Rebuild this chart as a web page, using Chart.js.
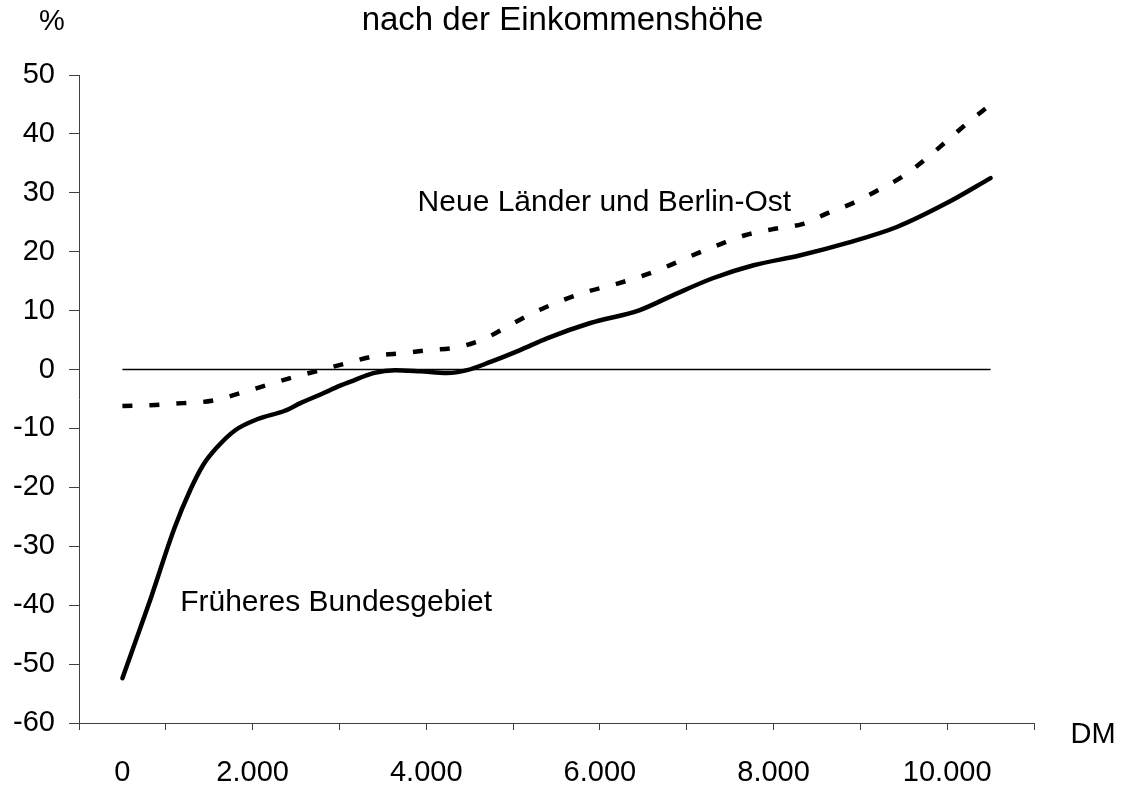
<!DOCTYPE html>
<html>
<head>
<meta charset="utf-8">
<script src="https://cdn.jsdelivr.net/npm/chart.js@4/dist/chart.umd.min.js"></script>
<style>
  body { margin: 0; background: #fff; }
</style>
</head>
<body>
<canvas id="incomeChart" width="1125" height="789"></canvas>
<script>
// Früheres Bundesgebiet (solid line)
const westIncome = [0, 320, 600, 780, 930, 1090, 1300, 1560, 1870, 2050, 2240, 2450, 2620, 2890, 3140, 3430, 3740, 3970, 4240, 4580, 4890, 5390, 5960, 6340, 6800, 7270, 7810, 8350, 8920, 9500, 10000];
const westValues = [-52.4, -39.1, -26.9, -20.5, -16.2, -13.2, -10.3, -8.4, -7.0, -5.7, -4.5, -3.1, -2.1, -0.6, -0.1, -0.3, -0.6, -0.1, 1.3, 3.3, 5.3, 7.9, 10.1, 12.6, 15.5, 17.7, 19.4, 21.5, 24.2, 28.3, 32.5];

// Neue Länder und Berlin-Ost (dashed line)
const eastIncome = [0, 380, 700, 1030, 1360, 1670, 1970, 2280, 2590, 2910, 3230, 3540, 3870, 4180, 4470, 4730, 5040, 5350, 5680, 5990, 6290, 6570, 6890, 7170, 7480, 7830, 8130, 8420, 8710, 8980, 9250, 9480, 9730, 10000];
const eastValues = [-6.2, -6.0, -5.7, -5.3, -4.0, -2.6, -1.3, -0.1, 1.1, 2.3, 2.8, 3.3, 3.8, 5.3, 7.6, 9.6, 11.6, 13.2, 14.5, 15.9, 17.6, 19.4, 21.3, 22.8, 23.8, 24.7, 26.6, 28.3, 30.5, 32.7, 35.7, 38.6, 41.8, 45.0];

// zero reference line
const zeroIncome = [0, 10000];
const zeroValues = [0, 0];

// x axis: tick marks every 1000 from -500, labels sit where the original put them
const xTickMarks = [-500, 500, 1500, 2500, 3500, 4500, 5500, 6500, 7500, 8500, 9500, 10500];
const xLabelValues = [0, 1500, 3500, 5500, 7500, 9500];
const xLabelTexts = ["0", "2.000", "4.000", "6.000", "8.000", "10.000"];

const seriesNames = ["Früheres Bundesgebiet", "Neue Länder und Berlin-Ost"];
const titleText = "nach der Einkommenshöhe";

const FONT = '"Liberation Sans", Arial, sans-serif';

function toPoints(xs, ys) {
    return xs.map((x, i) => ({ x: x, y: ys[i] }));
}

// text that is not part of an axis: title, unit labels and series captions
const textPlugin = {
    id: "extraText",
    afterDraw(chart) {
        const ctx = chart.ctx;
        const area = chart.chartArea;
        const xs = chart.scales.x;
        const ys = chart.scales.y;
        ctx.save();
        ctx.fillStyle = "#000";
        ctx.textBaseline = "middle";
        ctx.textAlign = "center";

        ctx.font = "33px " + FONT;
        ctx.fillText(titleText, chart.width / 2, 21);

        ctx.font = "29px " + FONT;
        ctx.fillText("%", area.left - 27, 22);
        ctx.fillText("DM", area.right + 59, area.bottom + 12);

        ctx.font = "30px " + FONT;
        ctx.textAlign = "left";
        ctx.fillText(seriesNames[1], xs.getPixelForValue(3400), ys.getPixelForValue(28.3));
        ctx.fillText(seriesNames[0], xs.getPixelForValue(665), ys.getPixelForValue(-39.6));
        ctx.restore();
    }
};

const ctx = document.getElementById("incomeChart").getContext("2d");
new Chart(ctx, {
    type: "line",
    data: {
        datasets: [
            {
                label: "0",
                data: toPoints(zeroIncome, zeroValues),
                borderColor: "#000",
                borderWidth: 1.5,
                pointRadius: 0
            },
            {
                label: seriesNames[0],
                data: toPoints(westIncome, westValues),
                borderColor: "#000",
                borderWidth: 4.5,
                borderCapStyle: "round",
                cubicInterpolationMode: "monotone",
                pointRadius: 0
            },
            {
                label: seriesNames[1],
                data: toPoints(eastIncome, eastValues),
                borderColor: "#000",
                borderWidth: 4.5,
                borderDash: [10, 17],
                cubicInterpolationMode: "monotone",
                pointRadius: 0
            }
        ]
    },
    options: {
        responsive: false,
        animation: false,
        layout: { padding: { left: 0, right: 91, top: 75, bottom: 0 } },
        plugins: {
            legend: { display: false },
            tooltip: { enabled: false },
            title: { display: false }
        },
        scales: {
            x: {
                type: "linear",
                min: -500,
                max: 10500,
                afterFit: s => { s.height = 66; },
                afterBuildTicks: s => {
                    s.ticks = xTickMarks.concat(xLabelValues)
                        .filter((v, i, a) => a.indexOf(v) === i)
                        .sort((a, b) => a - b)
                        .map(v => ({ value: v }));
                },
                border: { display: true, color: "#404040", width: 1 },
                grid: {
                    drawOnChartArea: false,
                    tickLength: 7,
                    tickColor: c => xTickMarks.includes(c.tick.value) ? "#404040" : "rgba(0,0,0,0)"
                },
                ticks: {
                    autoSkip: false,
                    maxRotation: 0,
                    padding: 26,
                    color: "#000",
                    font: { family: FONT, size: 29 },
                    callback: v => {
                        const i = xLabelValues.indexOf(v);
                        return i >= 0 ? xLabelTexts[i] : "";
                    }
                }
            },
            y: {
                min: -60,
                max: 50,
                afterFit: s => { s.width = 79; },
                border: { display: true, color: "#404040", width: 1 },
                grid: { drawOnChartArea: false, tickLength: 10, tickColor: "#404040" },
                ticks: {
                    stepSize: 10,
                    padding: 14,
                    color: "#000",
                    font: { family: FONT, size: 29 }
                }
            }
        }
    },
    plugins: [textPlugin]
});
</script>
</body>
</html>
